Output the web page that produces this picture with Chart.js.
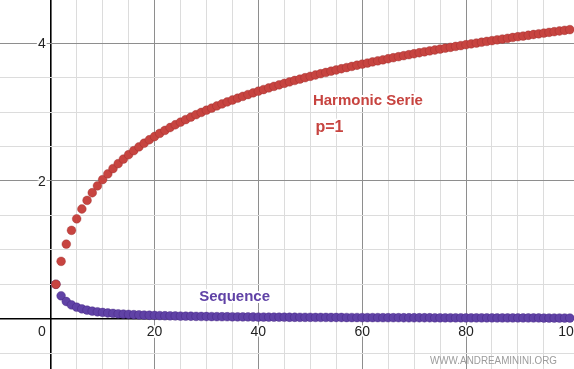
<!DOCTYPE html>
<html>
<head>
<meta charset="utf-8">
<script src="https://cdn.jsdelivr.net/npm/chart.js@4"></script>
<style>
  html, body { margin: 0; padding: 0; background: #fff; }
  #chart { display: block; }
</style>
</head>
<body>
<canvas id="chart" width="574" height="369"></canvas>
<script>
// index n of the terms
const termIndex = [
    1, 2, 3, 4, 5, 6, 7, 8, 9, 10,
    11, 12, 13, 14, 15, 16, 17, 18, 19, 20,
    21, 22, 23, 24, 25, 26, 27, 28, 29, 30,
    31, 32, 33, 34, 35, 36, 37, 38, 39, 40,
    41, 42, 43, 44, 45, 46, 47, 48, 49, 50,
    51, 52, 53, 54, 55, 56, 57, 58, 59, 60,
    61, 62, 63, 64, 65, 66, 67, 68, 69, 70,
    71, 72, 73, 74, 75, 76, 77, 78, 79, 80,
    81, 82, 83, 84, 85, 86, 87, 88, 89, 90,
    91, 92, 93, 94, 95, 96, 97, 98, 99, 100
];

// partial sums (red)
const harmonicSums = [
    0.5, 0.833, 1.083, 1.283, 1.45, 1.593, 1.718, 1.829, 1.929, 2.02,
    2.103, 2.18, 2.252, 2.318, 2.381, 2.44, 2.495, 2.548, 2.598, 2.645,
    2.691, 2.734, 2.776, 2.816, 2.854, 2.891, 2.927, 2.962, 2.995, 3.027,
    3.058, 3.089, 3.118, 3.147, 3.175, 3.202, 3.228, 3.254, 3.279, 3.303,
    3.327, 3.35, 3.373, 3.395, 3.417, 3.438, 3.459, 3.479, 3.499, 3.519,
    3.538, 3.557, 3.575, 3.594, 3.611, 3.629, 3.646, 3.663, 3.68, 3.696,
    3.712, 3.728, 3.744, 3.759, 3.774, 3.789, 3.804, 3.819, 3.833, 3.847,
    3.861, 3.875, 3.888, 3.901, 3.915, 3.928, 3.94, 3.953, 3.965, 3.978,
    3.99, 4.002, 4.014, 4.026, 4.037, 4.049, 4.06, 4.071, 4.083, 4.094,
    4.104, 4.115, 4.126, 4.136, 4.147, 4.157, 4.167, 4.177, 4.187, 4.197
];

// terms of the sequence (purple)
const sequenceTerms = [
    0.5, 0.333, 0.25, 0.2, 0.167, 0.143, 0.125, 0.111, 0.1, 0.091,
    0.083, 0.077, 0.071, 0.067, 0.063, 0.059, 0.056, 0.053, 0.05, 0.048,
    0.045, 0.043, 0.042, 0.04, 0.038, 0.037, 0.036, 0.034, 0.033, 0.032,
    0.031, 0.03, 0.029, 0.029, 0.028, 0.027, 0.026, 0.026, 0.025, 0.024,
    0.024, 0.023, 0.023, 0.022, 0.022, 0.021, 0.021, 0.02, 0.02, 0.02,
    0.019, 0.019, 0.019, 0.018, 0.018, 0.018, 0.017, 0.017, 0.017, 0.016,
    0.016, 0.016, 0.016, 0.015, 0.015, 0.015, 0.015, 0.014, 0.014, 0.014,
    0.014, 0.014, 0.014, 0.013, 0.013, 0.013, 0.013, 0.013, 0.013, 0.012,
    0.012, 0.012, 0.012, 0.012, 0.012, 0.011, 0.011, 0.011, 0.011, 0.011,
    0.011, 0.011, 0.011, 0.011, 0.01, 0.01, 0.01, 0.01, 0.01, 0.01
];

const xTickLabels = [20, 40, 60, 80, 100];
const yTickLabels = [2, 4];

const RED = '#c74440';
const PURPLE = '#6042a6';

// let the plot area use the whole canvas (no padding for point radius)
const ScatterCtrl = Chart.registry.getController('scatter');
ScatterCtrl.prototype.getMaxOverflow = function () { return 0; };

function gridColor(ctx, major) {
    const v = ctx.tick.value;
    if (Math.abs(v) < 1e-9) return '#000';
    const r = Math.round(v / (major / 4) * 1000) / 1000;
    if (Math.abs(r - Math.round(r)) > 1e-6) return 'rgba(0,0,0,0)';
    if (Math.abs(v / major - Math.round(v / major)) < 1e-6) return '#8e8e8e';
    return '#dcdcdc';
}

function drawLabel(ctx, text, x, y, font, color, align) {
    ctx.font = font;
    ctx.textAlign = align || 'left';
    ctx.textBaseline = 'alphabetic';
    ctx.lineJoin = 'round';
    ctx.strokeStyle = '#fff';
    ctx.lineWidth = 4;
    ctx.strokeText(text, x, y);
    ctx.fillStyle = color;
    ctx.fillText(text, x, y);
}

const labelsPlugin = {
    id: 'labels',
    afterDatasetsDraw(chart) {
        const ctx = chart.ctx;
        const xs = chart.scales.x;
        const ys = chart.scales.y;
        const x0 = xs.getPixelForValue(0);
        const y0 = ys.getPixelForValue(0);
        ctx.save();
        const tickFont = '14px "Liberation Sans", Arial, sans-serif';
        xTickLabels.forEach(v => {
            drawLabel(ctx, String(v), xs.getPixelForValue(v), y0 + 17, tickFont, '#222', 'center');
        });
        yTickLabels.forEach(v => {
            drawLabel(ctx, String(v), x0 - 5, ys.getPixelForValue(v) + 5, tickFont, '#222', 'right');
        });
        drawLabel(ctx, '0', x0 - 5, y0 + 17, tickFont, '#222', 'right');

        const bold = 'bold 15px "Liberation Sans", Arial, sans-serif';
        drawLabel(ctx, 'Harmonic Serie', xs.getPixelForValue(50.5), ys.getPixelForValue(3.1), bold, RED);
        drawLabel(ctx, 'p=1', xs.getPixelForValue(51.0), ys.getPixelForValue(2.71), 'bold 16px "Liberation Sans", Arial, sans-serif', RED);
        drawLabel(ctx, 'Sequence', xs.getPixelForValue(28.6), ys.getPixelForValue(0.258), bold, PURPLE);

        // watermark, squeezed to the width it has in the picture
        ctx.font = '11px "Liberation Sans", Arial, sans-serif';
        ctx.textAlign = 'right';
        ctx.fillStyle = '#9c9c9c';
        const mark = 'WWW.ANDREAMININI.ORG';
        const sx = 127 / ctx.measureText(mark).width;
        ctx.translate(557, 364);
        ctx.scale(sx, 1);
        ctx.fillText(mark, 0, 0);
        ctx.restore();
    }
};

const ctxChart = document.getElementById('chart').getContext('2d');
new Chart(ctxChart, {
    type: 'scatter',
    data: {
        datasets: [
            {
                label: 'Harmonic Serie',
                data: termIndex.map((n, i) => ({ x: n, y: harmonicSums[i] })),
                backgroundColor: RED,
                borderColor: 'rgba(150,40,40,0.35)',
                borderWidth: 1,
                pointRadius: 4.4,
                clip: false,
                order: 1
            },
            {
                label: 'Sequence',
                data: termIndex.map((n, i) => ({ x: n, y: sequenceTerms[i] })),
                backgroundColor: PURPLE,
                borderColor: 'rgba(60,30,120,0.35)',
                borderWidth: 1,
                pointRadius: 4.4,
                clip: false,
                order: 2
            }
        ]
    },
    options: {
        responsive: false,
        animation: false,
        layout: { padding: 0 },
        plugins: {
            legend: { display: false },
            tooltip: { enabled: false }
        },
        scales: {
            x: {
                type: 'linear',
                min: -9.77,
                max: 100.8,
                border: { display: false },
                ticks: { display: false, stepSize: 5, autoSkip: false },
                grid: {
                    drawTicks: false,
                    color: ctx => gridColor(ctx, 20),
                    lineWidth: ctx => Math.abs(ctx.tick.value) < 1e-9 ? 1.6 : 1
                }
            },
            y: {
                type: 'linear',
                min: -0.73,
                max: 4.627,
                border: { display: false },
                ticks: { display: false, stepSize: 0.5, autoSkip: false },
                grid: {
                    drawTicks: false,
                    color: ctx => gridColor(ctx, 2),
                    lineWidth: ctx => Math.abs(ctx.tick.value) < 1e-9 ? 1.6 : 1
                }
            }
        }
    },
    plugins: [labelsPlugin]
});
</script>
</body>
</html>
